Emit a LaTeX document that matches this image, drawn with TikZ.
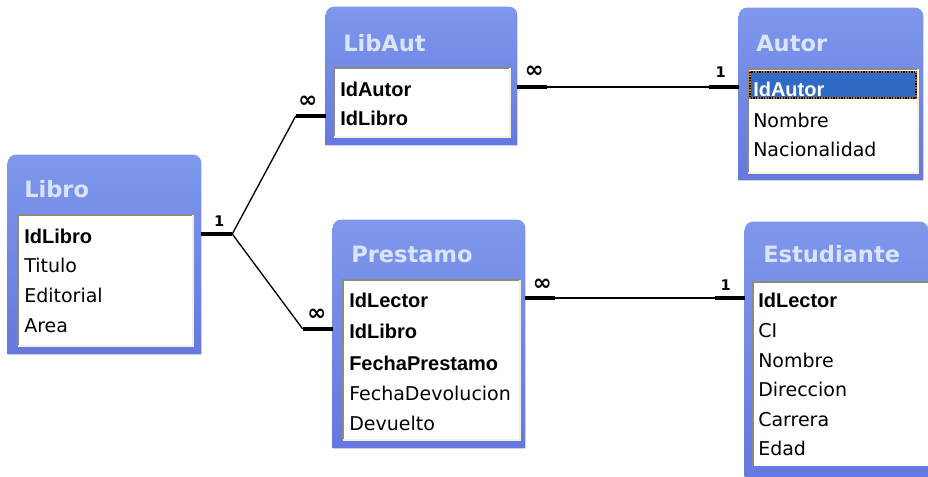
\documentclass[tikz,border=0pt]{standalone}
\usepackage{fontspec}
\setmainfont{DejaVu Sans}
\newfontfamily\clavefont{Liberation Sans}
\usetikzlibrary{fit,calc,positioning}

\definecolor{marco}{RGB}{102,120,222}
\definecolor{marcoclaro}{RGB}{126,152,236}
\definecolor{coltitulo}{RGB}{218,228,252}
\definecolor{hundido}{RGB}{138,138,128}
\definecolor{resalte}{RGB}{242,240,228}
\definecolor{seleccion}{RGB}{49,106,197}

\begin{document}
\begin{tikzpicture}[x=0.75pt,y=0.75pt,yscale=-1,xscale=1,
  tabla/.style={inner sep=0pt},
  ventana/.style={top color=marcoclaro,bottom color=marco},
  lista/.style={fill=white},
  sombra/.style={draw=hundido,line width=1.5pt},
  luz/.style={draw=resalte,line width=1.5pt},
  titulo/.style={anchor=base west,inner sep=0.75pt,text=coltitulo,font=\bfseries\fontsize{16.9}{18}\selectfont},
  campo/.style={anchor=base west,inner sep=0.75pt,font=\fontsize{14.25}{16}\selectfont},
  clave/.style={anchor=base west,inner sep=0.75pt,font=\clavefont\bfseries\fontsize{15}{16}\selectfont},
  pata/.style={line width=3.5pt},
  linea/.style={line width=1pt},
  card/.style={inner sep=0.75pt,font=\bfseries\fontsize{11}{11}\selectfont},
  muchos/.style={inner sep=0.75pt,font=\bfseries\fontsize{17}{17}\selectfont}]
\useasboundingbox (0,0) rectangle (928,477);

%Shape: Libro
\node[tabla,fit={(8,155) (201,354)}] (libro) {};
\shade[ventana] (libro.south west) [rounded corners=6pt] -- (libro.north west) -- (libro.north east) [sharp corners] -- (libro.south east) -- cycle;
\fill[lista] (18,215) rectangle (193,346);
\draw[sombra] (18,346) |- (193,215);
\draw[luz] (18,346) -| (193,215);
% Text Node
\node[titulo] (tLibro) at (23,198) {Libro};
\node[clave] (libroIdLibro) at (23,244) {IdLibro};
\node[campo] (libroTitulo) at (23,273) {Titulo};
\node[campo] (libroEditorial) at (23,303) {Editorial};
\node[campo] (libroArea) at (23,332) {Area};

%Shape: LibAut
\node[tabla,fit={(326,7) (517,145)}] (libaut) {};
\shade[ventana] (libaut.south west) [rounded corners=6pt] -- (libaut.north west) -- (libaut.north east) [sharp corners] -- (libaut.south east) -- cycle;
\fill[lista] (334,68) rectangle (510,137);
\draw[sombra] (334,137) |- (510,68);
\draw[luz] (334,137) -| (510,68);
% Text Node
\node[titulo] (tLibAut) at (342,52) {LibAut};
\node[clave] (libautIdAutor) at (339,97) {IdAutor};
\node[clave] (libautIdLibro) at (339,126) {IdLibro};

%Shape: Autor
\node[tabla,fit={(739,8) (923,180)}] (autor) {};
\shade[ventana] (autor.south west) [rounded corners=6pt] -- (autor.north west) -- (autor.north east) [sharp corners] -- (autor.south east) -- cycle;
\fill[lista] (748,69) rectangle (918,173);
\draw[sombra] (748,173) |- (918,69);
\draw[luz] (748,173) -| (918,69);
\filldraw[fill=seleccion,draw=orange!80!black,line width=1pt] (750,72) rectangle (916,98);
\draw[densely dotted,line width=1pt] (750,72) rectangle (916,98);
% Text Node
\node[titulo] (tAutor) at (755,52) {Autor};
\node[clave,text=white] (autorIdAutor) at (752,97) {IdAutor};
\node[campo] (autorNombre) at (752,128) {Nombre};
\node[campo] (autorNacionalidad) at (752,157) {Nacionalidad};

%Shape: Prestamo
\node[tabla,fit={(333,220) (525,448)}] (prestamo) {};
\shade[ventana] (prestamo.south west) [rounded corners=6pt] -- (prestamo.north west) -- (prestamo.north east) [sharp corners] -- (prestamo.south east) -- cycle;
\fill[lista] (343,280) rectangle (520,440);
\draw[sombra] (343,440) |- (520,280);
\draw[luz] (343,440) -| (520,280);
% Text Node
\node[titulo] (tPrestamo) at (350,263) {Prestamo};
\node[clave] (prestamoIdLector) at (348,308) {IdLector};
\node[clave] (prestamoIdLibro) at (348,339) {IdLibro};
\node[clave] (prestamoFechaPrestamo) at (348,370) {FechaPrestamo};
\node[campo] (prestamoFechaDevolucion) at (348,400) {FechaDevolucion};
\node[campo] (prestamoDevuelto) at (348,430) {Devuelto};

%Shape: Estudiante
\node[tabla,fit={(745,222) (928,477)}] (estudiante) {};
\shade[ventana] (estudiante.south west) [rounded corners=6pt] -- (estudiante.north west) -- (estudiante.north east) [sharp corners] -- (estudiante.south east) -- cycle;
\fill[lista] (753,282) rectangle (928,466);
\draw[sombra] (753,466) |- (928,282);
% Text Node
\node[titulo] (tEstudiante) at (762,263) {Estudiante};
\node[clave] (estudianteIdLector) at (757,308) {IdLector};
\node[campo] (estudianteCI) at (757,337) {CI};
\node[campo] (estudianteNombre) at (757,367) {Nombre};
\node[campo] (estudianteDireccion) at (757,396) {Direccion};
\node[campo] (estudianteCarrera) at (757,426) {Carrera};
\node[campo] (estudianteEdad) at (757,455) {Edad};

%Straight Lines: Libro - LibAut, Libro - Prestamo
\coordinate (libroR) at ($(libroIdLibro.base -| libro.east)+(0,-10)$);
\coordinate (libautL) at ($(libautIdLibro.base -| libaut.west)+(0,-10)$);
\coordinate (prestamoL) at ($(prestamoIdLibro.base -| prestamo.west)+(0,-10)$);
\draw[pata] (libroR) -- ++(31,0) coordinate (union);
\draw[pata] (libautL) -- ++(-30,0) coordinate (libautP);
\draw[pata] (prestamoL) -- ++(-30,0) coordinate (prestamoP);
\draw[linea] (union) -- (libautP);
\draw[linea] (union) -- (prestamoP);
\node[card] (uno1) at ($(union)+(-13,-13)$) {1};
\node[muchos] (inf1) at ($(libautP)+(12,-14)$) {∞};
\node[muchos] (inf2) at ($(prestamoP)+(14,-14)$) {∞};

%Straight Lines: LibAut - Autor
\coordinate (libautR) at ($(libautIdAutor.base -| libaut.east)+(0,-10)$);
\coordinate (autorL) at ($(autorIdAutor.base -| autor.west)+(0,-10)$);
\draw[pata] (libautR) -- ++(30,0) coordinate (libautQ);
\draw[pata] (autorL) -- ++(-30,0) coordinate (autorQ);
\draw[linea] (libautQ) -- (autorQ);
\node[muchos] (inf3) at ($(libautQ)+(-13,-15)$) {∞};
\node[card] (uno2) at ($(autorQ)+(12,-15)$) {1};

%Straight Lines: Prestamo - Estudiante
\coordinate (prestamoR) at ($(prestamoIdLector.base -| prestamo.east)+(0,-10)$);
\coordinate (estudianteL) at ($(estudianteIdLector.base -| estudiante.west)+(0,-10)$);
\draw[pata] (prestamoR) -- ++(30,0) coordinate (prestamoQ);
\draw[pata] (estudianteL) -- ++(-30,0) coordinate (estudianteQ);
\draw[linea] (prestamoQ) -- (estudianteQ);
\node[muchos] (inf4) at ($(prestamoQ)+(-13,-13)$) {∞};
\node[card] (uno3) at ($(estudianteQ)+(11,-13)$) {1};

\end{tikzpicture}
\end{document}
